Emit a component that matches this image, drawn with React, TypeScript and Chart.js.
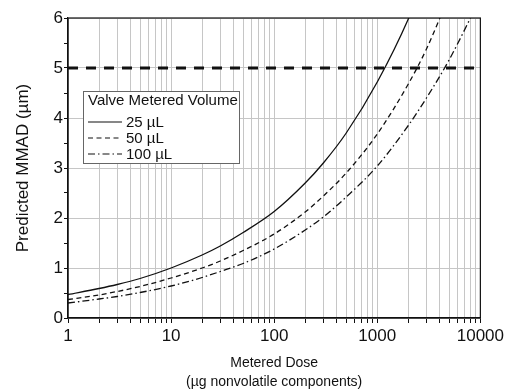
import React, { useEffect, useRef } from 'react';
import { Chart, registerables } from 'chart.js';

Chart.register(...registerables);

// Metered dose (µg nonvolatile components)
const doses = [1, 2, 3, 5, 10, 20, 30, 50, 100, 200, 300, 500, 1000, 2000, 3000, 5000, 10000];
// Predicted MMAD (µm) for each valve metered volume
const mmad25 = [0.47, 0.59, 0.67, 0.79, 1.0, 1.26, 1.44, 1.71, 2.13, 2.7, 3.1, 3.7, 4.72, 5.98, 6.9, null, null];
const mmad50 = [0.37, 0.46, 0.53, 0.63, 0.8, 1.0, 1.14, 1.35, 1.68, 2.12, 2.44, 2.9, 3.68, 4.68, 5.38, 6.45, null];
const mmad100 = [0.3, 0.38, 0.43, 0.51, 0.64, 0.81, 0.93, 1.09, 1.38, 1.76, 2.02, 2.42, 3.04, 3.85, 4.4, 5.17, 6.4];
const seriesLabels = ['25 µL', '50 µL', '100 µL'];
const legendTitle = 'Valve Metered Volume';
const limitValue = 5;
const limitRange = [1, 10000];

const majorTicks = [1, 10, 100, 1000, 10000];
const minorMultipliers = [2, 3, 4, 5, 6, 7, 8, 9];
const yTickLabels = [0, 1, 2, 3, 4, 5, 6];

const FONT = 'Arial, "Liberation Sans", sans-serif';
const GRID = '#c6c6c6';
const INK = '#111111';

const dashes: number[][] = [[], [5, 3.5], [7, 3, 1.5, 3]];

function toPoints(xs: number[], ys: (number | null)[]) {
  const out: { x: number; y: number }[] = [];
  xs.forEach((x, i) => {
    const y = ys[i];
    if (y !== null && y !== undefined) out.push({ x, y });
  });
  return out;
}

const xTickValues: number[] = [];
majorTicks.forEach((m, i) => {
  xTickValues.push(m);
  if (i < majorTicks.length - 1) minorMultipliers.forEach((k) => xTickValues.push(k * m));
});

const framePlugin = {
  id: 'frameAndLegend',
  afterDraw(chart: any) {
    const { ctx, chartArea: ca } = chart;
    ctx.save();
    ctx.strokeStyle = INK;
    ctx.lineWidth = 1.2;
    ctx.strokeRect(ca.left, ca.top, ca.right - ca.left, ca.bottom - ca.top);

    // legend box
    const left = ca.left + 15;
    const top = ca.top + 73;
    const w = 156;
    const h = 72;
    ctx.fillStyle = '#ffffff';
    ctx.fillRect(left, top, w, h);
    ctx.strokeStyle = '#666666';
    ctx.lineWidth = 1;
    ctx.strokeRect(left + 0.5, top + 0.5, w, h);

    ctx.fillStyle = INK;
    ctx.font = `15px ${FONT}`;
    ctx.textBaseline = 'middle';
    ctx.textAlign = 'left';
    ctx.fillText(legendTitle, left + 5, top + 10);

    const rows = [top + 31, top + 47, top + 63];
    seriesLabels.forEach((lab, i) => {
      ctx.strokeStyle = INK;
      ctx.lineWidth = 1.2;
      ctx.setLineDash(dashes[i]);
      ctx.beginPath();
      ctx.moveTo(left + 5, rows[i]);
      ctx.lineTo(left + 39, rows[i]);
      ctx.stroke();
      ctx.setLineDash([]);
      ctx.fillText(lab, left + 43, rows[i] + 1);
    });
    ctx.restore();
  },
};

export default function App() {
  const ref = useRef<HTMLCanvasElement | null>(null);

  useEffect(() => {
    if (!ref.current) return;
    const series = [mmad25, mmad50, mmad100];
    const chart = new Chart(ref.current, {
      type: 'line',
      data: {
        datasets: [
          ...series.map((ys, i) => ({
            label: seriesLabels[i],
            data: toPoints(doses, ys),
            borderColor: INK,
            borderWidth: 1.3,
            borderDash: dashes[i],
            pointRadius: 0,
            fill: false,
            cubicInterpolationMode: 'monotone' as const,
          })),
          {
            label: 'limit',
            data: limitRange.map((x) => ({ x, y: limitValue })),
            borderColor: INK,
            borderWidth: 2.8,
            borderDash: [10, 8],
            pointRadius: 0,
            fill: false,
          },
        ],
      },
      options: {
        responsive: false,
        animation: false,
        events: [],
        layout: { padding: { top: 18, right: 25, left: 0, bottom: 0 } },
        plugins: { legend: { display: false }, tooltip: { enabled: false } },
        scales: {
          x: {
            type: 'logarithmic',
            min: 1,
            max: 10000,
            afterBuildTicks: (scale: any) => {
              scale.ticks = xTickValues.map((v) => ({ value: v }));
            },
            afterFit: (scale: any) => {
              scale.height = 71;
            },
            ticks: {
              autoSkip: false,
              maxRotation: 0,
              padding: 3,
              color: INK,
              font: { family: FONT, size: 17 },
              callback: (v: any) => (majorTicks.includes(Number(v)) ? String(v) : ''),
            },
            grid: { color: GRID, lineWidth: 1, tickLength: 5, tickColor: INK },
            border: { color: INK, width: 1.2 },
            title: {
              display: true,
              text: ['Metered Dose', '(µg nonvolatile components)'],
              color: INK,
              font: { family: FONT, size: 14, lineHeight: '19px' },
              padding: { top: 0, bottom: -3 },
            },
          },
          y: {
            type: 'linear',
            min: 0,
            max: 6,
            afterFit: (scale: any) => {
              scale.width = 68;
            },
            ticks: {
              stepSize: 0.5,
              padding: 1,
              color: INK,
              font: { family: FONT, size: 17 },
              callback: (v: any) => (yTickLabels.includes(Number(v)) ? String(v) : ''),
            },
            grid: {
              color: (c: any) =>
                c.tick && yTickLabels.includes(c.tick.value) ? GRID : 'rgba(0,0,0,0)',
              lineWidth: 1,
              tickLength: 4,
              tickColor: INK,
            },
            border: { color: INK, width: 1.2 },
            title: {
              display: true,
              text: 'Predicted MMAD (µm)',
              color: INK,
              font: { family: FONT, size: 17 },
              padding: { top: 13, bottom: 0 },
            },
          },
        },
      },
      plugins: [framePlugin],
    } as any);
    return () => chart.destroy();
  }, []);

  return (
    <div style={{ position: 'fixed', left: 0, top: 0, width: 507, height: 389, background: '#fff' }}>
      <canvas ref={ref} width={507} height={389} />
    </div>
  );
}
